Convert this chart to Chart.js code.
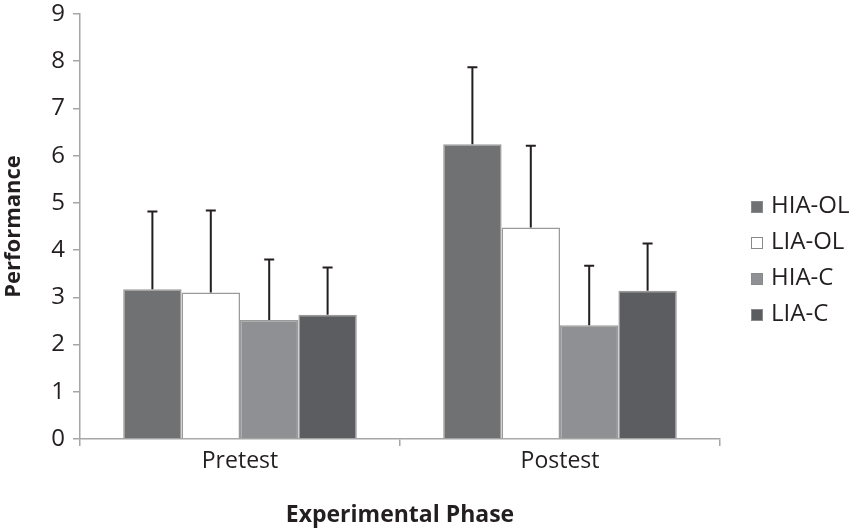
<!DOCTYPE html>
<html>
<head>
<meta charset="utf-8">
<script src="https://cdn.jsdelivr.net/npm/chart.js@4/dist/chart.umd.min.js"></script>
<style>
  html, body { margin: 0; padding: 0; background: #fff; }
  #wrap { width: 850px; height: 531px; position: relative; }
</style>
</head>
<body>
<div id="wrap"><canvas id="perfChart"></canvas></div>
<script>
// values
const phases = ["Pretest", "Postest"];
const groups = ["HIA-OL", "LIA-OL", "HIA-C", "LIA-C"];
const hiaOL = [3.17, 6.24];
const liaOL = [3.10, 4.48];
const hiaC = [2.52, 2.41];
const liaC = [2.63, 3.14];
// upper end of each error bar
const hiaOLErr = [4.82, 7.87];
const liaOLErr = [4.84, 6.21];
const hiaCErr = [3.80, 3.67];
const liaCErr = [3.63, 4.14];
const yTicks = [0, 1, 2, 3, 4, 5, 6, 7, 8, 9];

const fills = ["#707173", "#ffffff", "#8f9094", "#5c5d61"];
const font = "'Open Sans', sans-serif";
const axisGray = "#a6a6a6";
const ink = "#231f20";

const values = [hiaOL, liaOL, hiaC, liaC];
const errs = [hiaOLErr, liaOLErr, hiaCErr, liaCErr];

// error bars: vertical line from bar top up to the value, with a cap
const errorBars = {
  id: "errorBars",
  afterDatasetsDraw(chart) {
    const ctx = chart.ctx;
    const y = chart.scales.y;
    ctx.save();
    ctx.strokeStyle = ink;
    ctx.lineWidth = 2;
    chart.data.datasets.forEach((ds, di) => {
      const meta = chart.getDatasetMeta(di);
      meta.data.forEach((bar, i) => {
        const top = y.getPixelForValue(ds.errTop[i]);
        ctx.beginPath();
        ctx.moveTo(bar.x, bar.y);
        ctx.lineTo(bar.x, top);
        ctx.moveTo(bar.x - 5, top);
        ctx.lineTo(bar.x + 5, top);
        ctx.stroke();
      });
    });
    ctx.restore();
  }
};

// legend on the right, drawn by hand so it sits where the original does
const sideLegend = {
  id: "sideLegend",
  afterDraw(chart) {
    const ctx = chart.ctx;
    ctx.save();
    ctx.font = "24px " + font;
    ctx.textBaseline = "middle";
    chart.data.datasets.forEach((ds, i) => {
      const cy = 206 + i * 36;
      ctx.fillStyle = ds.backgroundColor;
      ctx.fillRect(751, cy - 5, 12, 12);
      ctx.strokeStyle = "#8a8a8a";
      ctx.lineWidth = 1;
      ctx.strokeRect(751.5, cy - 4.5, 11, 11);
      ctx.fillStyle = ink;
      ctx.fillText(ds.label, 771, cy);
    });
    ctx.restore();
  }
};

new Chart(document.getElementById("perfChart"), {
  type: "bar",
  data: {
    labels: phases,
    datasets: groups.map((g, i) => ({
      label: g,
      data: values[i],
      errTop: errs[i],
      backgroundColor: fills[i],
      borderColor: "#9a9a9a",
      borderWidth: 1.5,
      categoryPercentage: 0.73,
      barPercentage: 1.0
    }))
  },
  options: {
    responsive: true,
    maintainAspectRatio: false,
    animation: false,
    layout: { padding: { top: 14, right: 130, left: 0, bottom: 0 } },
    plugins: {
      legend: { display: false },
      tooltip: { enabled: false }
    },
    scales: {
      x: {
        grid: { display: true, drawOnChartArea: false, drawTicks: true, tickLength: 7, color: axisGray, lineWidth: 1.5 },
        border: { color: axisGray, width: 1.5 },
        ticks: { color: ink, font: { family: font, size: 23 }, padding: 2 },
        title: { display: true, text: "Experimental Phase", color: ink, font: { family: font, size: 23, weight: "bold" }, padding: 2 },
        afterFit(scale) { scale.height = 92; }
      },
      y: {
        min: 0,
        max: 9,
        afterBuildTicks(scale) { scale.ticks = yTicks.map(v => ({ value: v })); },
        grid: { display: true, drawOnChartArea: false, drawTicks: true, tickLength: 7, color: axisGray, lineWidth: 1.5 },
        border: { color: axisGray, width: 1.5 },
        ticks: { color: ink, font: { family: font, size: 24 }, padding: 8 },
        title: { display: true, text: "Performance", color: ink, font: { family: font, size: 22, weight: "bold" }, padding: 1 },
        afterFit(scale) {
          scale.width = 80;
          // keep the 9 right at the top like the original
          scale.paddingTop = 0;
          scale.paddingBottom = 0;
        }
      }
    }
  },
  plugins: [errorBars, sideLegend]
});
</script>
</body>
</html>
